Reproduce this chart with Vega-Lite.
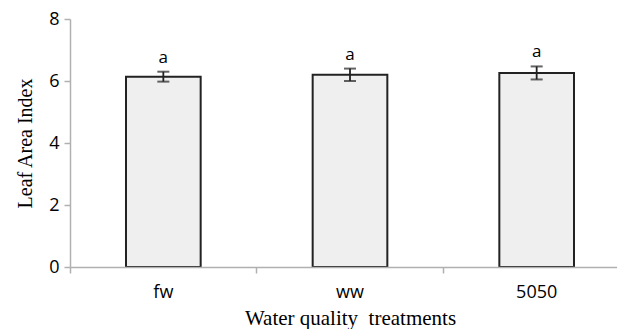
{
  "$schema": "https://vega.github.io/schema/vega-lite/v6.json",
  "width": 560,
  "height": 248,
  "autosize": {"type": "none"},
  "padding": {"left": 70, "top": 19, "right": 0, "bottom": 62},
  "background": "white",
  "config": {"view": {"stroke": null}},
  "data": {
    "values": [
      {"treatment": "fw", "lai": 6.14, "err": 0.16, "group": "a"},
      {"treatment": "ww", "lai": 6.2, "err": 0.2, "group": "a"},
      {"treatment": "5050", "lai": 6.26, "err": 0.21, "group": "a"}
    ]
  },
  "transform": [
    {"calculate": "datum.lai - datum.err", "as": "lo"},
    {"calculate": "datum.lai + datum.err", "as": "hi"}
  ],
  "encoding": {
    "x": {
      "field": "treatment",
      "type": "nominal",
      "sort": null,
      "scale": {"paddingInner": 0, "paddingOuter": 0},
      "axis": {
        "title": "Water quality\u00a0 treatments",
        "titleFont": "Liberation Serif",
        "titleFontSize": 21,
        "titleFontWeight": "normal",
        "titleColor": "#000",
        "titlePadding": 6,
        "labelFont": "Open Sans",
        "labelFontSize": 18,
        "labelColor": "#000",
        "labelAngle": 0,
        "labelPadding": 10,
        "bandPosition": 0,
        "domainColor": "#b0b0b0",
        "domainWidth": 1.5,
        "tickColor": "#b0b0b0",
        "tickWidth": 1.5,
        "tickSize": 6,
        "zindex": 1
      }
    }
  },
  "layer": [
    {
      "mark": {"type": "bar", "fill": "#efefef", "stroke": "#222", "strokeWidth": 2, "width": {"band": 0.4}},
      "encoding": {
        "y": {
          "field": "lai",
          "type": "quantitative",
          "scale": {"domain": [0, 8]},
          "axis": {
            "values": [0, 2, 4, 6, 8],
            "title": "Leaf Area Index",
            "titleFont": "Liberation Serif",
            "titleFontSize": 20,
            "titleFontWeight": "normal",
            "titleColor": "#000",
            "titlePadding": 13,
            "labelFont": "Open Sans",
            "labelFontSize": 18,
            "labelColor": "#000",
            "labelPadding": 5,
            "grid": false,
            "domainColor": "#b0b0b0",
            "domainWidth": 1.5,
            "tickColor": "#b0b0b0",
            "tickWidth": 1.5,
            "tickSize": 6,
            "zindex": 1
          }
        }
      }
    },
    {
      "mark": {"type": "rule", "stroke": "#222", "strokeWidth": 1.8},
      "encoding": {
        "y": {"field": "lo", "type": "quantitative"},
        "y2": {"field": "hi"}
      }
    },
    {
      "mark": {"type": "tick", "color": "#222", "thickness": 2, "size": 12, "orient": "horizontal"},
      "encoding": {"y": {"field": "lo", "type": "quantitative"}}
    },
    {
      "mark": {"type": "tick", "color": "#222", "thickness": 2, "size": 12, "orient": "horizontal"},
      "encoding": {"y": {"field": "hi", "type": "quantitative"}}
    },
    {
      "mark": {"type": "text", "font": "Open Sans", "fontSize": 17, "color": "#000", "baseline": "bottom", "dy": -5},
      "encoding": {
        "y": {"field": "hi", "type": "quantitative"},
        "text": {"field": "group"}
      }
    }
  ]
}
